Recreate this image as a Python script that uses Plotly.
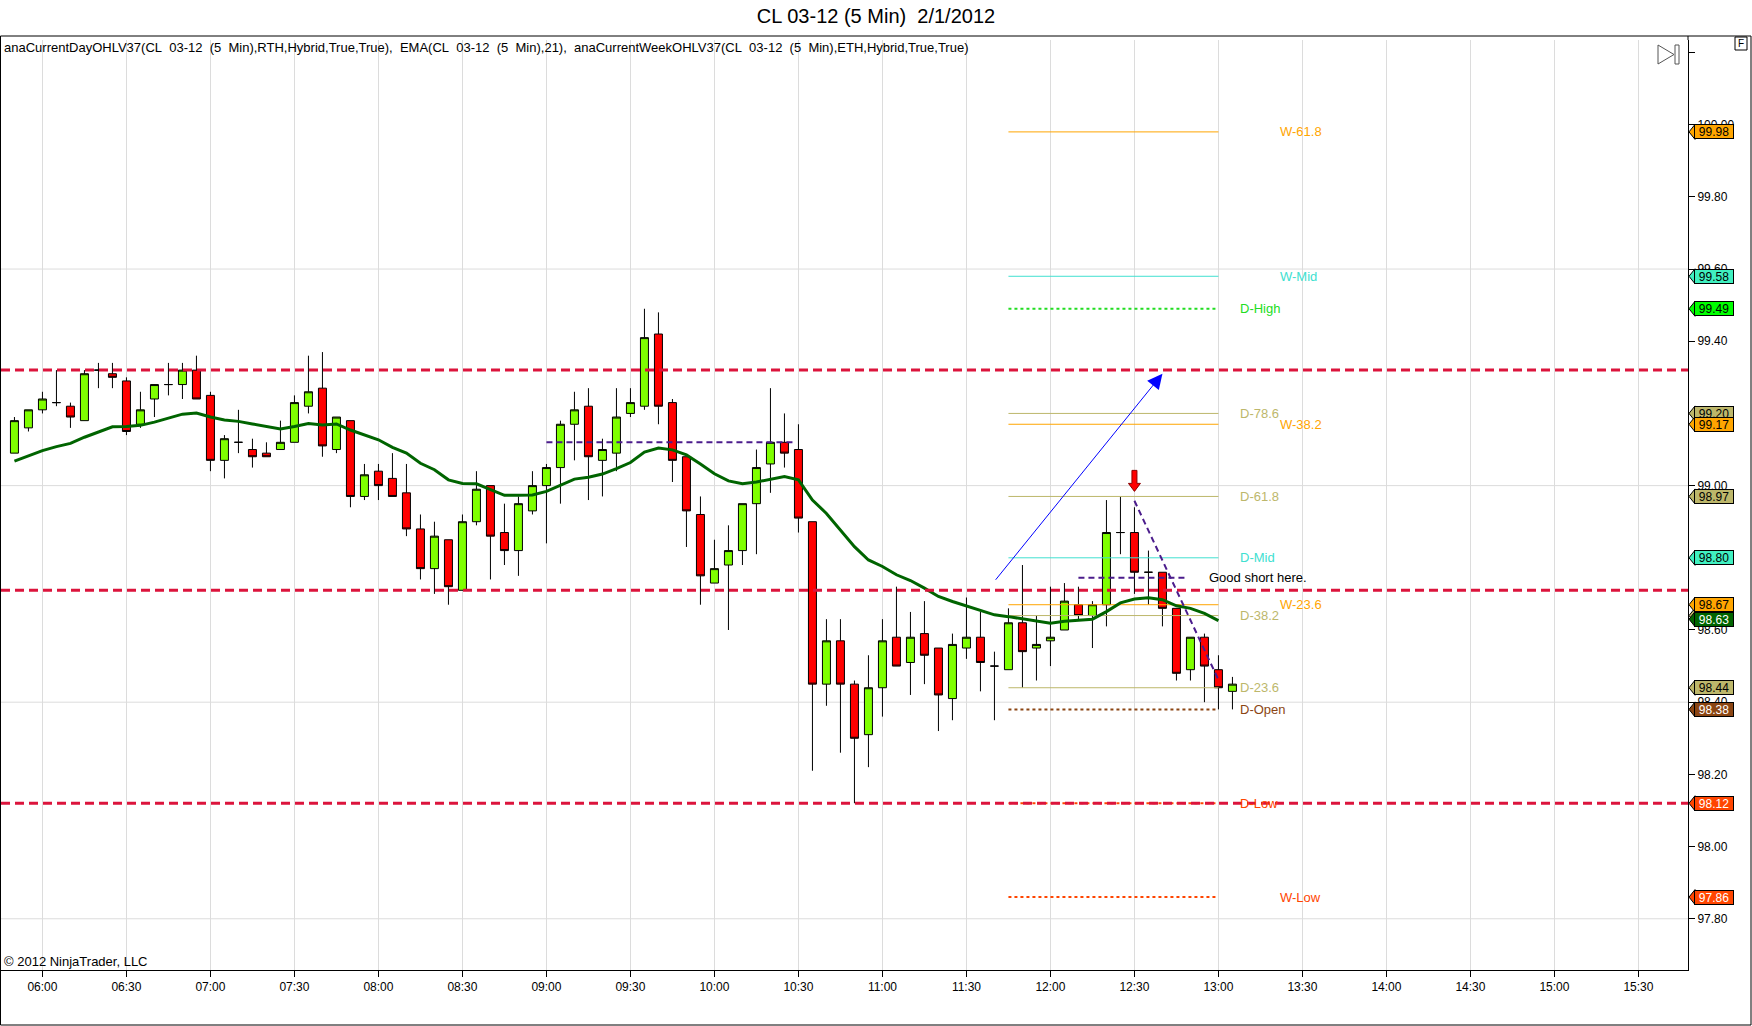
import pandas as pd
import plotly.graph_objects as go

# ---------------- data ----------------
FIRST_BAR = "2012-02-01 05:50"          # 5-minute bars
OPEN = [99.09, 99.16, 99.21, 99.23, 99.22, 99.18, 99.32, 99.31, 99.29, 99.17,
        99.24, 99.28, 99.28, 99.32, 99.25, 99.07, 99.12, 99.10, 99.09, 99.10,
        99.12, 99.22, 99.27, 99.10, 99.18, 98.97, 99.04, 99.02, 98.98, 98.88,
        98.77, 98.85, 98.71, 98.90, 99.00, 98.87, 98.82, 98.93, 99.00, 99.05,
        99.17, 99.22, 99.07, 99.09, 99.20, 99.22, 99.42, 99.23, 99.08, 98.92,
        98.73, 98.78, 98.82, 98.95, 99.06, 99.12, 99.10, 98.90, 98.45, 98.57,
        98.45, 98.31, 98.44, 98.58, 98.51, 98.59, 98.55, 98.41, 98.55, 98.58,
        98.50, 98.49, 98.62, 98.55, 98.57, 98.60, 98.67, 98.64, 98.67, 98.87,
        98.87, 98.76, 98.76, 98.66, 98.49, 98.58, 98.49, 98.43]
HIGH = [99.19, 99.21, 99.26, 99.32, 99.23, 99.32, 99.34, 99.34, 99.30, 99.26,
        99.28, 99.34, 99.34, 99.36, 99.26, 99.14, 99.21, 99.13, 99.12, 99.18,
        99.25, 99.36, 99.37, 99.19, 99.18, 99.06, 99.06, 99.09, 99.06, 98.92,
        98.90, 98.85, 98.92, 99.04, 99.00, 98.95, 98.97, 99.04, 99.06, 99.18,
        99.26, 99.27, 99.13, 99.27, 99.27, 99.49, 99.48, 99.24, 99.08, 98.97,
        98.85, 98.89, 98.95, 99.10, 99.27, 99.20, 99.17, 98.90, 98.63, 98.63,
        98.46, 98.53, 98.63, 98.72, 98.65, 98.68, 98.55, 98.59, 98.69, 98.65,
        98.54, 98.66, 98.78, 98.64, 98.72, 98.73, 98.72, 98.68, 98.96, 98.97,
        98.94, 98.82, 98.76, 98.66, 98.58, 98.59, 98.53, 98.47]
LOW = [99.09, 99.15, 99.20, 99.22, 99.16, 99.18, 99.27, 99.27, 99.14, 99.16,
       99.19, 99.25, 99.24, 99.24, 99.04, 99.02, 99.09, 99.05, 99.08, 99.10,
       99.12, 99.20, 99.08, 99.09, 98.94, 98.96, 98.96, 98.97, 98.86, 98.74,
       98.70, 98.67, 98.71, 98.89, 98.74, 98.78, 98.75, 98.92, 98.84, 98.95,
       99.07, 98.96, 98.97, 99.04, 99.19, 99.21, 99.17, 99.01, 98.83, 98.67,
       98.73, 98.60, 98.78, 98.81, 98.98, 99.05, 98.87, 98.21, 98.39, 98.26,
       98.12, 98.22, 98.36, 98.50, 98.42, 98.45, 98.32, 98.35, 98.52, 98.43,
       98.35, 98.49, 98.44, 98.46, 98.50, 98.60, 98.63, 98.55, 98.61, 98.81,
       98.70, 98.67, 98.61, 98.46, 98.46, 98.40, 98.38, 98.38]
CLOSE = [99.18, 99.21, 99.24, 99.23, 99.19, 99.31, 99.32, 99.30, 99.15, 99.21,
         99.28, 99.28, 99.32, 99.24, 99.07, 99.13, 99.12, 99.08, 99.08, 99.12,
         99.23, 99.26, 99.11, 99.19, 98.97, 99.03, 99.00, 98.97, 98.88, 98.77,
         98.86, 98.72, 98.90, 98.99, 98.86, 98.82, 98.95, 99.00, 99.05, 99.17,
         99.21, 99.08, 99.10, 99.19, 99.23, 99.41, 99.22, 99.07, 98.93, 98.75,
         98.77, 98.82, 98.95, 99.05, 99.12, 99.09, 98.91, 98.45, 98.57, 98.45,
         98.30, 98.44, 98.57, 98.50, 98.58, 98.53, 98.42, 98.56, 98.58, 98.51,
         98.50, 98.62, 98.54, 98.56, 98.58, 98.68, 98.64, 98.67, 98.87, 98.87,
         98.76, 98.76, 98.66, 98.48, 98.58, 98.50, 98.44, 98.45]
EMA21 = [99.068, 99.082, 99.097, 99.108, 99.117, 99.134, 99.149, 99.163, 99.164, 99.167,
         99.176, 99.187, 99.198, 99.201, 99.190, 99.182, 99.178, 99.171, 99.164, 99.157,
         99.164, 99.172, 99.168, 99.171, 99.154, 99.140, 99.127, 99.106, 99.090, 99.062,
         99.044, 99.016, 99.006, 99.005, 98.990, 98.973, 98.973, 98.974, 98.984, 99.000,
         99.018, 99.023, 99.032, 99.047, 99.064, 99.093, 99.104, 99.099, 99.085, 99.060,
         99.033, 99.013, 99.005, 99.010, 99.018, 99.025, 99.016, 98.960, 98.923, 98.877,
         98.831, 98.794, 98.776, 98.753, 98.737, 98.716, 98.693, 98.679, 98.667, 98.656,
         98.642, 98.637, 98.631, 98.624, 98.619, 98.624, 98.626, 98.630, 98.651, 98.675,
         98.686, 98.689, 98.684, 98.667, 98.660, 98.646, 98.626]
EMA_LAST = 98.63

# indicator levels (drawn from LEVEL_START to LEVEL_END)
LEVEL_NAMES = ["W-61.8", "W-Mid", "D-High", "D-78.6", "W-38.2", "D-61.8", "D-Mid",
               "W-23.6", "D-38.2", "D-23.6", "D-Open", "D-Low", "W-Low"]
LEVEL_VALUES = [99.98, 99.58, 99.49, 99.20, 99.17, 98.97, 98.80,
                98.67, 98.64, 98.44, 98.38, 98.12, 97.86]
LEVEL_COLORS = ["#FFA500", "#40E0D0", "#22DD22", "#BDB76B", "#FFA500", "#BDB76B", "#40E0D0",
                "#FFA500", "#BDB76B", "#BDB76B", "#8B4513", "#FF4500", "#FF4500"]
LEVEL_DASH = ["solid", "solid", "dot", "solid", "solid", "solid", "solid",
              "solid", "solid", "solid", "dot", "dot", "dot"]
TAG_FILLS = ["#FFA500", "#40F0C0", "#00FF00", "#BDB76B", "#FFA500", "#BDB76B", "#40F0C0",
             "#FFA500", "#BDB76B", "#BDB76B", "#8B4513", "#FF4500", "#FF4500"]
TAG_TEXT = ["black", "black", "black", "black", "black", "black", "black",
            "black", "black", "black", "white", "white", "white"]
LEVEL_START = "2012-02-01 11:45"
LEVEL_END = "2012-02-01 13:00"

# user drawn horizontal lines
RED_LINES = [99.32, 98.71, 98.12]
# purple dashed drawings: (x0, y0, x1, y1)
PURPLE_LINES = [("2012-02-01 09:00", 99.12, "2012-02-01 10:29", 99.12),
                ("2012-02-01 12:10", 98.745, "2012-02-01 12:49", 98.745),
                ("2012-02-01 12:30", 98.958, "2012-02-01 13:00", 98.462)]
BLUE_ARROW = ("2012-02-01 11:40", 98.735, "2012-02-01 12:40", 99.31)
RED_ARROW = ("2012-02-01 12:30", 98.984)
NOTE = ("Good short here.", 98.745)

GRID_Y = [97.8, 98.4, 99.0, 99.6]
Y_TICKS = [97.8, 98.0, 98.2, 98.4, 98.6, 98.8, 99.0, 99.2, 99.4, 99.6, 99.8, 100.0, 100.2]
Y_TICK_TEXT = ["97.80", "98.00", "98.20", "98.40", "98.60", "98.80", "99.00", "99.20",
               "99.40", "99.60", "99.80", "100.00", ""]
X_RANGE = ["2012-02-01 05:45:12", "2012-02-01 15:47:42"]
Y_RANGE = [97.658, 100.2346]

TITLE = "CL 03-12 (5 Min)\u00a0 2/1/2012"
INDICATORS = ("anaCurrentDayOHLV37(CL\u00a0 03-12\u00a0 (5\u00a0 Min),RTH,Hybrid,True,True),\u00a0 "
              "EMA(CL\u00a0 03-12\u00a0 (5\u00a0 Min),21),\u00a0 "
              "anaCurrentWeekOHLV37(CL\u00a0 03-12\u00a0 (5\u00a0 Min),ETH,Hybrid,True,True)")
COPYRIGHT = "\u00a9 2012 NinjaTrader, LLC"

# ---------------- layout geometry ----------------
W, H = 1752, 1026
ML, MR, MT, MB = 1, 64, 40, 56
PW = W - ML - MR
PH = H - MT - MB
FONT = "Liberation Sans, Arial, sans-serif"


def px_x(px):
    return (px - ML) / PW


def px_y(py):
    return (H - MB - py) / PH


times = pd.date_range(FIRST_BAR, periods=len(OPEN), freq="5min")

fig = go.Figure()

# indicator level lines (below candles)
for name, val, col, dash in zip(LEVEL_NAMES, LEVEL_VALUES, LEVEL_COLORS, LEVEL_DASH):
    fig.add_trace(go.Scatter(x=[LEVEL_START, LEVEL_END], y=[val, val], mode="lines",
                             line=dict(color=col, width=2 if dash == "dot" else 1, dash=dash),
                             hoverinfo="skip", showlegend=False))

fig.add_trace(go.Candlestick(
    x=times, open=OPEN, high=HIGH, low=LOW, close=CLOSE,
    increasing=dict(fillcolor="#7FFF00", line=dict(color="black", width=1)),
    decreasing=dict(fillcolor="#FF0000", line=dict(color="black", width=1)),
    whiskerwidth=0, hoverinfo="skip", showlegend=False))

fig.add_trace(go.Scatter(x=times[:len(EMA21)], y=EMA21, mode="lines",
                         line=dict(color="#006400", width=3), hoverinfo="skip", showlegend=False))

shapes = []
for gy in GRID_Y:
    shapes.append(dict(type="line", xref="paper", x0=0, x1=1, yref="y", y0=gy, y1=gy,
                       line=dict(color="#DCDCDC", width=1), layer="below"))
for ry in RED_LINES:
    shapes.append(dict(type="line", xref="paper", x0=0, x1=1, yref="y", y0=ry, y1=ry,
                       line=dict(color="#DC143C", width=3, dash="9px,5px"), layer="above"))
for x0, y0, x1, y1 in PURPLE_LINES:
    shapes.append(dict(type="line", xref="x", yref="y", x0=x0, y0=y0, x1=x1, y1=y1,
                       line=dict(color="#4B1C8C", width=2, dash="6px,4px"), layer="above"))

# red down arrow (block arrow)
shapes.append(dict(type="path", xref="x", yref="y", xsizemode="pixel", ysizemode="pixel",
                   xanchor=RED_ARROW[0], yanchor=RED_ARROW[1],
                   path="M 0,0 L -6,8 L -2.5,8 L -2.5,21 L 2.5,21 L 2.5,8 L 6,8 Z",
                   fillcolor="#FF0000", line=dict(color="#8B0000", width=1), layer="above"))

# outer frame and chart decorations
shapes.append(dict(type="rect", xref="paper", yref="paper",
                   x0=px_x(0.5), x1=px_x(1751), y0=px_y(1025), y1=px_y(36),
                   line=dict(color="black", width=1), fillcolor="rgba(0,0,0,0)", layer="above"))
shapes.append(dict(type="line", xref="paper", yref="paper", x0=1, x1=1, y0=1, y1=px_y(36),
                   line=dict(color="black", width=1)))
shapes.append(dict(type="rect", xref="paper", yref="paper",
                   x0=px_x(1735), x1=px_x(1747), y0=px_y(50), y1=px_y(37),
                   line=dict(color="black", width=1), fillcolor="white"))
shapes.append(dict(type="path", xref="paper", yref="paper",
                   path="M {a},{b} L {c},{d} L {a},{e} Z".format(
                       a=px_x(1658), b=px_y(45), c=px_x(1674), d=px_y(54.5), e=px_y(64)),
                   line=dict(color="#555555", width=1), fillcolor="white"))
shapes.append(dict(type="rect", xref="paper", yref="paper",
                   x0=px_x(1675), x1=px_x(1679), y0=px_y(64), y1=px_y(45),
                   line=dict(color="#555555", width=1), fillcolor="white"))

annotations = []

# level labels
for name, val, col in zip(LEVEL_NAMES, LEVEL_VALUES, LEVEL_COLORS):
    lx = 1278 if name.startswith("W") else 1238
    annotations.append(dict(text=name, xref="paper", x=px_x(lx), xanchor="left",
                            yref="y", y=val, yanchor="middle", showarrow=False,
                            font=dict(family=FONT, size=13, color=col)))

# price tags on the right axis: D first, then W, then EMA on top
order = [i for i, n in enumerate(LEVEL_NAMES) if n.startswith("D")] + \
        [i for i, n in enumerate(LEVEL_NAMES) if n.startswith("W")]
tag_list = [(LEVEL_VALUES[i], TAG_FILLS[i], TAG_TEXT[i]) for i in order]
tag_list.append((EMA_LAST, "#006400", "white"))
for val, fill, tcol in tag_list:
    shapes.append(dict(type="path", xref="paper", yref="y", xsizemode="pixel", ysizemode="pixel",
                       xanchor=1, yanchor=val, path="M 1,0 L 7,7.5 L 7,-7.5 Z",
                       fillcolor=fill, line=dict(color="black", width=1)))
    annotations.append(dict(text="%.2f" % val, xref="paper", x=1 + 26 / PW, xanchor="center",
                            yref="y", y=val, yanchor="middle", showarrow=False,
                            width=38, height=13, bgcolor=fill, bordercolor="black",
                            borderwidth=1, borderpad=0,
                            font=dict(family=FONT, size=12, color=tcol)))

# blue arrow
annotations.append(dict(text="", x=BLUE_ARROW[2], y=BLUE_ARROW[3], xref="x", yref="y",
                        ax=BLUE_ARROW[0], ay=BLUE_ARROW[1], axref="x", ayref="y",
                        showarrow=True, arrowhead=2, arrowsize=3, arrowwidth=1,
                        arrowcolor="#0000FF"))
annotations.append(dict(text=NOTE[0], xref="paper", x=px_x(1207), xanchor="left",
                        yref="y", y=NOTE[1], yanchor="middle", showarrow=False,
                        font=dict(family=FONT, size=13, color="black")))
annotations.append(dict(text=INDICATORS, xref="paper", x=px_x(2), xanchor="left",
                        yref="paper", y=px_y(47), yanchor="middle", showarrow=False,
                        font=dict(family=FONT, size=13, color="black")))
annotations.append(dict(text=COPYRIGHT, xref="paper", x=px_x(2), xanchor="left",
                        yref="paper", y=px_y(961), yanchor="middle", showarrow=False,
                        font=dict(family=FONT, size=13, color="black")))
annotations.append(dict(text="F", xref="paper", x=px_x(1741), xanchor="center",
                        yref="paper", y=px_y(43.5), yanchor="middle", showarrow=False,
                        font=dict(family=FONT, size=10, color="black")))

fig.update_layout(
    width=W, height=H,
    margin=dict(l=ML, r=MR, t=MT, b=MB, pad=0),
    paper_bgcolor="white", plot_bgcolor="white",
    font=dict(family=FONT, size=12, color="black"),
    title=dict(text=TITLE, x=0.5, xref="container", xanchor="center",
               y=1 - 15.6 / H, yref="container", yanchor="middle",
               font=dict(family=FONT, size=20, color="black")),
    showlegend=False,
    boxgap=0.43, boxgroupgap=0,
    xaxis=dict(type="date", range=X_RANGE, tickformat="%H:%M", dtick=1800000,
               tick0="2012-02-01 06:00", showgrid=True, gridcolor="#DCDCDC", gridwidth=1,
               ticks="outside", ticklen=6, tickcolor="black", showline=True,
               linecolor="black", linewidth=1, zeroline=False,
               rangeslider=dict(visible=False), tickfont=dict(family=FONT, size=12)),
    yaxis=dict(side="right", range=Y_RANGE, tickmode="array", tickvals=Y_TICKS,
               ticktext=Y_TICK_TEXT, showgrid=False, ticks="outside", ticklen=6,
               tickcolor="black", showline=True, linecolor="black", linewidth=1,
               zeroline=False, tickfont=dict(family=FONT, size=12)),
    shapes=shapes, annotations=annotations,
)

fig.write_html("out.html", config={"displayModeBar": False},
               post_script="document.body.style.margin='0px';"
                           "document.body.style.overflow='hidden';")
